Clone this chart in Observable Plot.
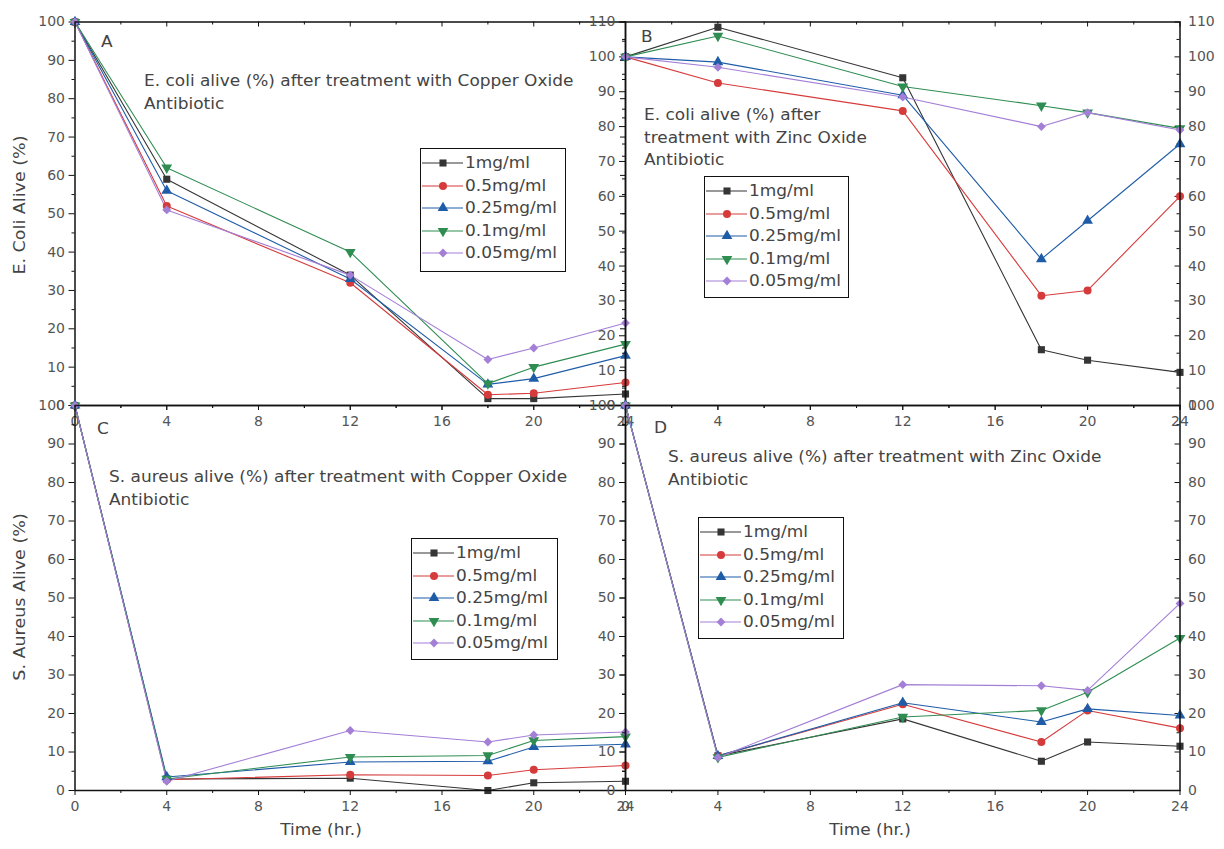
<!DOCTYPE html>
<html>
<head>
<meta charset="utf-8">
<script src="https://cdn.jsdelivr.net/npm/d3@7"></script>
<script src="https://cdn.jsdelivr.net/npm/@observablehq/plot@0.6"></script>
<style>
  html, body { margin: 0; padding: 0; background: #fff; }
  #fig { position: relative; width: 1224px; height: 849px; overflow: hidden; background: #fff;
         font-family: "DejaVu Sans", "Liberation Sans", Arial, sans-serif; color: #444; }
  #fig svg.panel { position: absolute; left: 0; top: 0; }
  .txt { position: absolute; font-size: 15px; line-height: 22.5px; white-space: nowrap; color: #444;
         transform: scaleX(1.13); transform-origin: 0 0; }
  .legend { position: absolute; box-sizing: border-box; border: 1.6px solid #111; background: #fff;
            padding: 3px 0 0 0; }
  .legend .row { height: 22.5px; display: flex; align-items: center; }
  .legend .row svg { flex: none; }
  .legend .row span { font-size: 15px; color: #444; white-space: nowrap; display: inline-block;
                      transform: scaleX(1.13); transform-origin: 0 50%; }
  .ytitle { position: absolute; font-size: 15.5px; white-space: nowrap; color: #444;
            transform: translate(-50%, -50%) rotate(-90deg) scaleX(1.13); }
  .xtitle { position: absolute; font-size: 15px; white-space: nowrap; color: #444;
            transform: translate(-50%, -50%) scaleX(1.13); }
</style>
</head>
<body>
<div id="fig"></div>
<script>
// Sampling times (hours) and the five antibiotic concentrations
const times = [0, 4, 12, 18, 20, 24];
const concentrations = ["1mg/ml", "0.5mg/ml", "0.25mg/ml", "0.1mg/ml", "0.05mg/ml"];
const timeTicks = [0, 4, 8, 12, 16, 20, 24];
const timeMinorTicks = [2, 6, 10, 14, 18, 22];
const percentTicks100 = [0, 10, 20, 30, 40, 50, 60, 70, 80, 90, 100];
const percentTicks110 = [0, 10, 20, 30, 40, 50, 60, 70, 80, 90, 100, 110];

// A — E. coli alive (%) with copper oxide
const ecoliCopper1 = [100, 59, 34, 1.8, 1.8, 3];
const ecoliCopper05 = [100, 52, 32, 2.8, 3.2, 6];
const ecoliCopper025 = [100, 56, 33, 5.5, 7, 13];
const ecoliCopper01 = [100, 62, 40, 5.7, 10, 16];
const ecoliCopper005 = [100, 51, 34, 12, 15, 21.5];

// B — E. coli alive (%) with zinc oxide
const ecoliZinc1 = [100, 108.5, 94, 16, 13, 9.5];
const ecoliZinc05 = [100, 92.5, 84.5, 31.5, 33, 60];
const ecoliZinc025 = [100, 98.5, 89, 42, 53, 75];
const ecoliZinc01 = [100, 106, 91.5, 86, 84, 79.5];
const ecoliZinc005 = [100, 97, 88.5, 80, 84, 79];

// C — S. aureus alive (%) with copper oxide
const aureusCopper1 = [100, 3, 3.2, 0, 2, 2.4];
const aureusCopper05 = [100, 2.8, 4.1, 3.9, 5.4, 6.5];
const aureusCopper025 = [100, 3.5, 7.4, 7.6, 11.3, 12];
const aureusCopper01 = [100, 3, 8.7, 9.1, 13, 14];
const aureusCopper005 = [100, 2.4, 15.6, 12.6, 14.4, 15.2];

// D — S. aureus alive (%) with zinc oxide
const aureusZinc1 = [100, 9, 18.6, 7.6, 12.6, 11.5];
const aureusZinc05 = [100, 9, 22.4, 12.6, 20.8, 16.2];
const aureusZinc025 = [100, 9, 22.8, 17.8, 21.2, 19.5];
const aureusZinc01 = [100, 8.6, 19.1, 20.8, 25.5, 39.6];
const aureusZinc005 = [100, 8.6, 27.5, 27.2, 26, 48.6];

// Series styling (Origin-like)
const seriesColors = ["#353535", "#d63b3b", "#1f5ca8", "#2f8d52", "#a47fd6"];
const triangleDown = {
  draw(context, size) {
    const s3 = Math.sqrt(3);
    const y = -Math.sqrt(size / (s3 * 3));
    context.moveTo(0, -y * 2);
    context.lineTo(-s3 * y, y);
    context.lineTo(s3 * y, y);
    context.closePath();
  }
};
const seriesSymbols = [d3.symbolSquare, d3.symbolCircle, d3.symbolTriangle, triangleDown, d3.symbolDiamond2];

const W = 1224, H = 849;
const fig = document.getElementById("fig");

const panels = [
  {series: [ecoliCopper1, ecoliCopper05, ecoliCopper025, ecoliCopper01, ecoliCopper005],
   yMax: 100, yTicks: percentTicks100, box: [74.5, 625, 21.5, 405], leftLabels: true, rightLabels: false},
  {series: [ecoliZinc1, ecoliZinc05, ecoliZinc025, ecoliZinc01, ecoliZinc005],
   yMax: 110, yTicks: percentTicks110, box: [625, 1179.5, 21.5, 405], leftLabels: true, rightLabels: true},
  {series: [aureusCopper1, aureusCopper05, aureusCopper025, aureusCopper01, aureusCopper005],
   yMax: 100, yTicks: percentTicks100, box: [74.5, 625, 405, 790], leftLabels: true, rightLabels: false},
  {series: [aureusZinc1, aureusZinc05, aureusZinc025, aureusZinc01, aureusZinc005],
   yMax: 100, yTicks: percentTicks100, box: [625, 1179.5, 405, 790], leftLabels: true, rightLabels: true}
];

const blank = () => "";
const tickText = {fontSize: 14, fill: "#555", stroke: "#111", label: null};

for (const p of panels) {
  const [x0, x1, y0, y1] = p.box;
  const rows = p.series.flatMap((vals, k) =>
    vals.map((v, j) => ({time: times[j], alive: v, conc: concentrations[k], k})));
  const yMinor = d3.range(5, p.yMax, 10);
  const frameH = y1 - y0, frameW = x1 - x0;
  const marks = [
    // minor/major ticks, Origin style: outward on bottom/left, inward on top/right
    Plot.axisX({anchor: "bottom", ticks: timeTicks, tickSize: 5, tickPadding: 6, tickFormat: d => d, ...tickText}),
    Plot.axisX({anchor: "bottom", ticks: timeMinorTicks, tickSize: 3, tickFormat: blank, ...tickText}),
    Plot.tickX(timeTicks, {x: d => d, insetBottom: frameH - 5, stroke: "#111"}),
    Plot.tickX(timeMinorTicks, {x: d => d, insetBottom: frameH - 3, stroke: "#111"}),
    Plot.axisY({anchor: "left", ticks: p.yTicks, tickSize: 6, tickPadding: 4,
                tickFormat: p.leftLabels ? (d => d) : blank, ...tickText}),
    Plot.axisY({anchor: "left", ticks: yMinor, tickSize: 3, tickFormat: blank, ...tickText}),
    Plot.tickY(p.yTicks, {y: d => d, insetLeft: frameW - 5, stroke: "#111"}),
    Plot.tickY(yMinor, {y: d => d, insetLeft: frameW - 3, stroke: "#111"}),
    p.rightLabels ? Plot.axisY({anchor: "right", ticks: p.yTicks, tickSize: 0, tickPadding: 8,
                                tickFormat: d => d, ...tickText}) : null,
    ...p.series.map((_, k) => Plot.line(rows.filter(r => r.k === k),
      {x: "time", y: "alive", stroke: seriesColors[k], strokeWidth: 1.1})),
    ...p.series.map((_, k) => Plot.dot(rows.filter(r => r.k === k),
      {x: "time", y: "alive", symbol: seriesSymbols[k], fill: seriesColors[k], stroke: null, r: 4})),
    Plot.frame({stroke: "#111", strokeWidth: 1.5})
  ];
  const svg = Plot.plot({
    width: W, height: H,
    marginLeft: x0, marginRight: W - x1, marginTop: y0, marginBottom: H - y1,
    x: {domain: [0, 24], axis: null},
    y: {domain: [0, p.yMax], axis: null},
    style: {background: "transparent", overflow: "visible", fontFamily: "DejaVu Sans, Liberation Sans, Arial, sans-serif"},
    marks
  });
  svg.classList.add("panel");
  fig.appendChild(svg);
}

// Text annotations
function addText(lines, left, top) {
  const d = document.createElement("div");
  d.className = "txt";
  d.style.left = left + "px";
  d.style.top = top + "px";
  d.innerHTML = lines.join("<br>");
  fig.appendChild(d);
}
addText(["A"], 101, 31);
addText(["E. coli alive (%) after treatment with Copper Oxide", "Antibiotic"], 144, 70);
addText(["B"], 641, 26);
addText(["E. coli alive (%) after", "treatment with Zinc Oxide", "Antibiotic"], 644, 104);
addText(["C"], 97, 418);
addText(["S. aureus alive (%) after treatment with Copper Oxide", "Antibiotic"], 109, 466);
addText(["D"], 654, 417);
addText(["S. aureus alive (%) after treatment with Zinc Oxide", "Antibiotic"], 668, 446);

function addTitle(cls, text, cx, cy) {
  const d = document.createElement("div");
  d.className = cls;
  d.style.left = cx + "px";
  d.style.top = cy + "px";
  d.textContent = text;
  fig.appendChild(d);
}
addTitle("ytitle", "E. Coli Alive (%)", 20, 205);
addTitle("ytitle", "S. Aureus Alive (%)", 20, 597);
addTitle("xtitle", "Time (hr.)", 321, 830);
addTitle("xtitle", "Time (hr.)", 870, 830);

// Legends: line + marker swatch for each concentration
function addLegend(left, top, width, height) {
  const box = document.createElement("div");
  box.className = "legend";
  Object.assign(box.style, {left: left + "px", top: top + "px", width: width + "px", height: height + "px"});
  concentrations.forEach((c, k) => {
    const row = document.createElement("div");
    row.className = "row";
    const sw = d3.create("svg").attr("width", 44).attr("height", 20);
    sw.append("line").attr("x1", 1).attr("x2", 42).attr("y1", 10).attr("y2", 10)
      .attr("stroke", seriesColors[k]).attr("stroke-width", 1.2);
    sw.append("path").attr("transform", "translate(22,10)")
      .attr("d", d3.symbol(seriesSymbols[k], 50)()).attr("fill", seriesColors[k]);
    row.appendChild(sw.node());
    const s = document.createElement("span");
    s.textContent = c;
    row.appendChild(s);
    box.appendChild(row);
  });
  fig.appendChild(box);
}
addLegend(420, 148, 146, 124);
addLegend(704, 176, 145, 122);
addLegend(411, 538, 147, 122);
addLegend(698, 517, 146, 122);
</script>
</body>
</html>
